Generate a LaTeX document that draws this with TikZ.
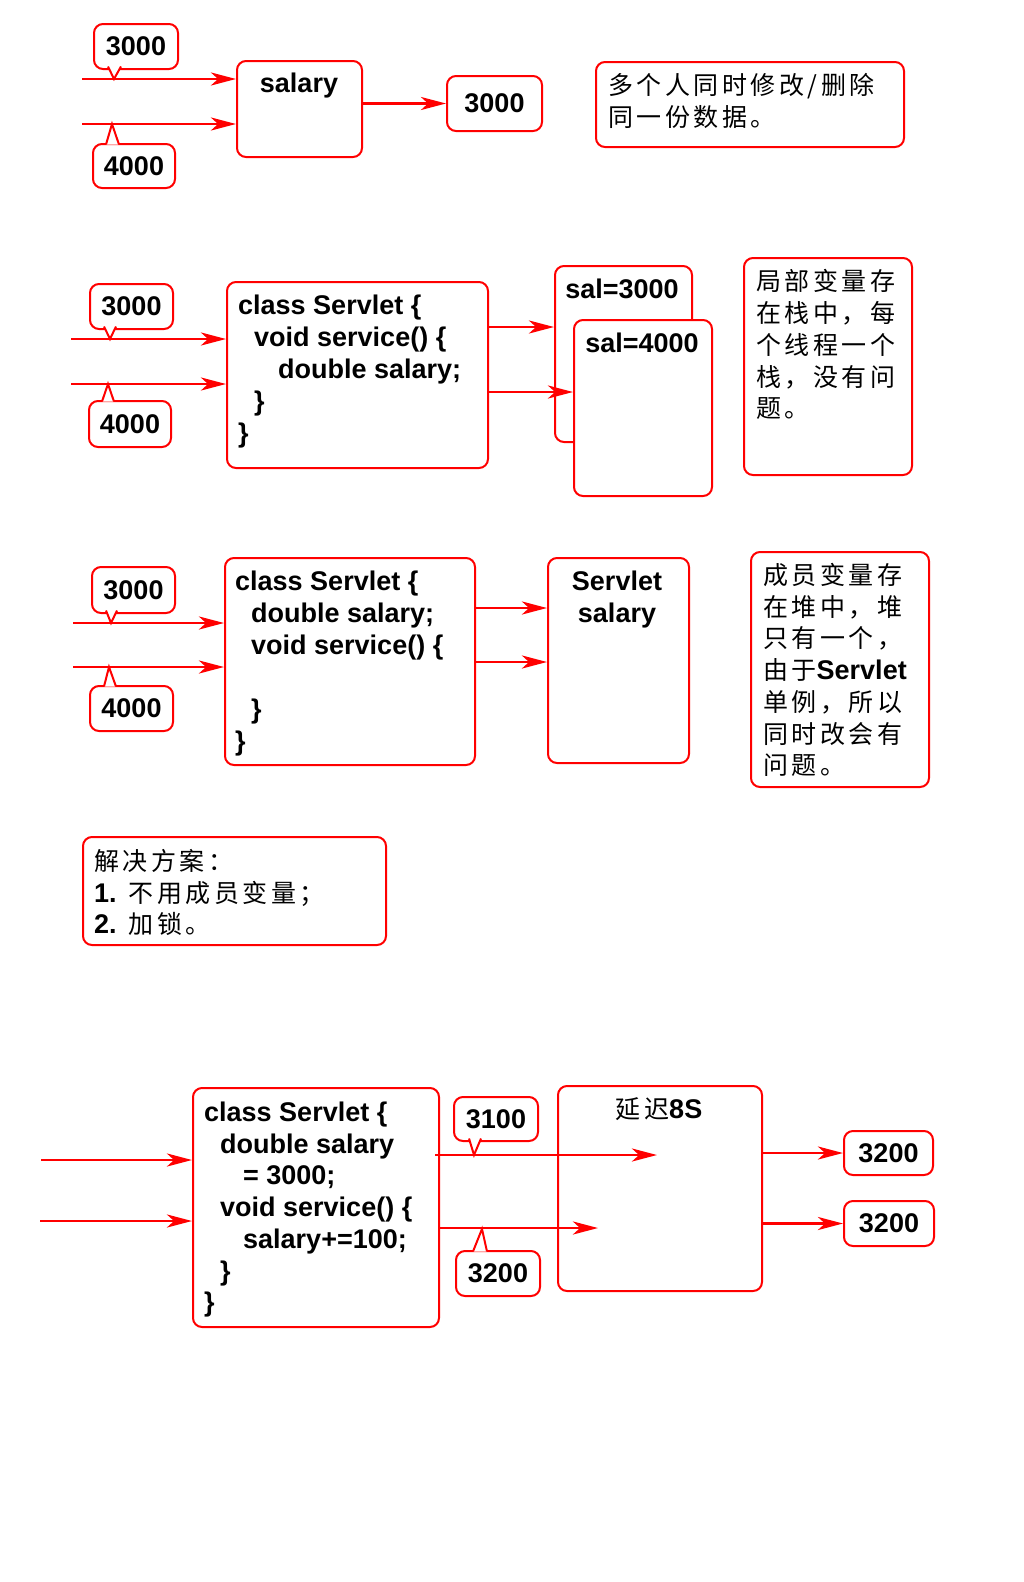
\documentclass[tikz,border=0pt]{standalone}
\usepackage{fontspec}
\setmainfont{Liberation Sans}
\newfontfamily\cjk{Noto Sans CJK SC}[LetterSpace=14]
\usetikzlibrary{arrows.meta}
\newcommand\LatB[1]{{\rmfamily\bfseries\fontsize{27}{32}\selectfont #1}}
\tikzset{
 box/.style={draw=red, line width=2pt, rounded corners=9pt, fill=white, inner sep=0pt, anchor=north west, font=\fontsize{27}{32}\selectfont\bfseries},
 ptr/.style={draw=red, line width=2pt, fill=white},
 arr/.style={draw=red, line width=2.8pt, -{Stealth[length=25pt,width=13pt,inset=7pt]}},
 code/.style={font=\fontsize{27}{32}\selectfont\bfseries, inner sep=0pt, anchor=base west},
 zh/.style={font=\fontsize{25}{32}\selectfont\cjk, inner sep=0pt, anchor=base west},
}
\begin{document}
\begin{tikzpicture}[x=1pt,y=-1pt]
\useasboundingbox[fill=white] (0,0) rectangle (1024,1582);

% ---------- Section 1 ----------
\node[box, minimum width=125, minimum height=96] (sal) at (236,60) {};
\node[code, anchor=base] (salt) at (299,92) {salary};
\node[box, minimum width=95, minimum height=55] (v1) at (446,75) {3000};
\node[box, minimum width=308, minimum height=85] (b1) at (595,61) {};
\node[zh] (b1a) at (608,94) {多个人同时修改/删除};
\node[zh] (b1b) at (608,126) {同一份数据。};
\coordinate (i1) at (82,79);
\coordinate (i2) at (82,124);
\draw[arr] (i1) -- (sal.west |- i1);
\draw[arr] (i2) -- (sal.west |- i2);
\draw[arr] (sal.east |- v1.west) -- (v1.west);
\node[box, minimum width=84, minimum height=45] (c1) at (93,23) {3000};
\draw[ptr] (108,66.5) -- (114,79) -- (121,66.5);
\node[box, minimum width=82, minimum height=44] (c2) at (92,143) {4000};
\draw[ptr] (106,144.5) -- (112,124) -- (119,144.5);

% ---------- Section 2 ----------
\node[box, minimum width=261, minimum height=186] (code2) at (226,281) {};
\node[code] (k2a) at (238,314) {class Servlet \{};
\node[code] (k2b) at (254,346) {void service() \{};
\node[code] (k2c) at (278,378) {double salary;};
\node[code] (k2d) at (254,410) {\}};
\node[code] (k2e) at (238,442) {\}};
\node[box, minimum width=137, minimum height=176] (sal3) at (554,265) {};
\node[code, anchor=base] (sal3t) at (622,298) {sal=3000};
\node[box, minimum width=138, minimum height=176] (sal4) at (573,319) {};
\node[code, anchor=base] (sal4t) at (642,352) {sal=4000};
\coordinate (o2a) at (487,327);
\coordinate (o2b) at (487,392);
\draw[arr] (o2a) -- (sal3.west |- o2a);
\draw[arr] (o2b) -- (sal4.west |- o2b);
\node[box, minimum width=168, minimum height=217] (b2) at (743,257) {};
\node[zh] (b2a) at (756,290) {局部变量存};
\node[zh] (b2b) at (756,322) {在栈中，每};
\node[zh] (b2c) at (756,354) {个线程一个};
\node[zh] (b2d) at (756,386) {栈，没有问};
\node[zh] (b2e) at (756,417) {题。};
\coordinate (i3) at (71,339);
\coordinate (i4) at (71,384);
\draw[arr] (i3) -- (code2.west |- i3);
\draw[arr] (i4) -- (code2.west |- i4);
\node[box, minimum width=83, minimum height=45] (c3) at (89,283) {3000};
\draw[ptr] (104,326.5) -- (110,339) -- (116,326.5);
\node[box, minimum width=82, minimum height=46] (c4) at (88,400) {4000};
\draw[ptr] (102,401.5) -- (108,384) -- (114,401.5);

% ---------- Section 3 ----------
\node[box, minimum width=250, minimum height=207] (code3) at (224,557) {};
\node[code] (k3a) at (235,590) {class Servlet \{};
\node[code] (k3b) at (251,622) {double salary;};
\node[code] (k3c) at (251,654) {void service() \{};
\node[code] (k3d) at (251,718) {\}};
\node[code] (k3e) at (235,750) {\}};
\node[box, minimum width=141, minimum height=205] (sv) at (547,557) {};
\node[code, anchor=base] (sva) at (617,590) {Servlet};
\node[code, anchor=base] (svb) at (617,622) {salary};
\coordinate (o3a) at (474,608);
\coordinate (o3b) at (474,662);
\draw[arr] (o3a) -- (sv.west |- o3a);
\draw[arr] (o3b) -- (sv.west |- o3b);
\node[box, minimum width=178, minimum height=235] (b3) at (750,551) {};
\node[zh] (b3a) at (763,584) {成员变量存};
\node[zh] (b3b) at (763,616) {在堆中，堆};
\node[zh] (b3c) at (763,647) {只有一个，};
\node[zh] (b3d) at (763,679) {由于\LatB{Servlet}};
\node[zh] (b3e) at (763,711) {单例，所以};
\node[zh] (b3f) at (763,743) {同时改会有};
\node[zh] (b3g) at (763,774) {问题。};
\coordinate (i5) at (73,623);
\coordinate (i6) at (73,667);
\draw[arr] (i5) -- (code3.west |- i5);
\draw[arr] (i6) -- (code3.west |- i6);
\node[box, minimum width=83, minimum height=46] (c5) at (91,566) {3000};
\draw[ptr] (106,610.5) -- (111,623) -- (117,610.5);
\node[box, minimum width=83, minimum height=45] (c6) at (89,685) {4000};
\draw[ptr] (104,686.5) -- (109,667) -- (116,686.5);

% ---------- Section 4 ----------
\node[box, minimum width=303, minimum height=108] (b4) at (82,836) {};
\node[zh] (b4a) at (94,870) {解决方案：};
\node[zh] (b4b) at (94,902) {\LatB{1.} 不用成员变量；};
\node[zh] (b4c) at (94,933) {\LatB{2.} 加锁。};

% ---------- Section 5 ----------
\node[box, minimum width=246, minimum height=239] (code5) at (192,1087) {};
\node[code] (k5a) at (204,1121) {class Servlet \{};
\node[code] (k5b) at (220,1153) {double salary};
\node[code] (k5c) at (243,1184) {= 3000;};
\node[code] (k5d) at (220,1216) {void service() \{};
\node[code] (k5e) at (243,1248) {salary+=100;};
\node[code] (k5f) at (220,1280) {\}};
\node[code] (k5g) at (204,1311) {\}};
\coordinate (i7) at (41,1160);
\coordinate (i8) at (40,1221);
\draw[arr] (i7) -- (code5.west |- i7);
\draw[arr] (i8) -- (code5.west |- i8);
\node[box, fill=none, minimum width=204, minimum height=205] (delay) at (557,1085) {};
\node[zh, anchor=base] (delayt) at (659,1118) {延迟\LatB{8S}};
\coordinate (o5a) at (435,1155);
\coordinate (e5a) at (657,1155);
\coordinate (o5b) at (438,1228);
\coordinate (e5b) at (598,1228);
\draw[arr] (o5a) -- (e5a);
\draw[arr] (o5b) -- (e5b);
\node[box, minimum width=89, minimum height=44] (r1) at (843,1130) {3200};
\node[box, minimum width=90, minimum height=45] (r2) at (843,1200) {3200};
\draw[arr] (delay.east |- r1.west) -- (r1.west);
\draw[arr] (delay.east |- r2.west) -- (r2.west);
\node[box, minimum width=84, minimum height=44] (q1) at (453,1096) {3100};
\draw[ptr] (469,1138.5) -- (474,1155) -- (481,1138.5);
\node[box, minimum width=84, minimum height=45] (q2) at (455,1250) {3200};
\draw[ptr] (473,1251.5) -- (482,1229) -- (487,1251.5);
\end{tikzpicture}
\end{document}
